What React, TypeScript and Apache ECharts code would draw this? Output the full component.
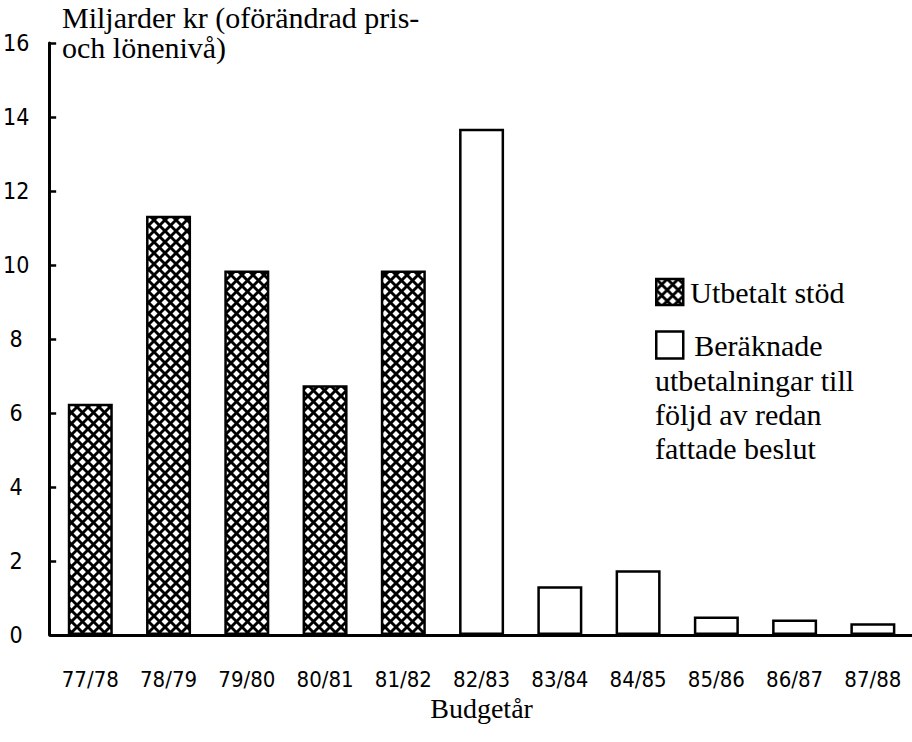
import React, { useEffect, useRef } from "react";
import * as echarts from "echarts";

const categories = ["77/78", "78/79", "79/80", "80/81", "81/82", "82/83", "83/84", "84/85", "85/86", "86/87", "87/88"];
const paidOut = [6.25, 11.33, 9.85, 6.75, 9.85, null, null, null, null, null, null];
const estimated = [null, null, null, null, null, 13.68, 1.32, 1.75, 0.5, 0.42, 0.32];
const yTicks = [0, 2, 4, 6, 8, 10, 12, 14, 16];
const paidName = "Utbetalt stöd";
const estName = "Beräknade utbetalningar till följd av redan fattade beslut";
const estLegendFirst = "Beräknade";
const estLegendRest = ["utbetalningar till", "följd av redan", "fattade beslut"];
const yTitle = ["Miljarder kr (oförändrad pris-", "och lönenivå)"];
const xTitle = "Budgetår";

const SERIF = '"Liberation Serif", "Times New Roman", serif';
const NARROW = '"DejaVu Sans Condensed", "DejaVu Sans", sans-serif';

function makeHatchTile(): HTMLCanvasElement {
  const s = 11;
  const c = document.createElement("canvas");
  c.width = s;
  c.height = s;
  const ctx = c.getContext("2d")!;
  ctx.fillStyle = "#ffffff";
  ctx.fillRect(0, 0, s, s);
  ctx.strokeStyle = "#000000";
  ctx.lineWidth = 2.9;
  ctx.lineCap = "square";
  for (const dx of [-s, 0, s]) {
    ctx.beginPath();
    ctx.moveTo(dx, 0);
    ctx.lineTo(dx + s, s);
    ctx.stroke();
    ctx.beginPath();
    ctx.moveTo(dx + s, 0);
    ctx.lineTo(dx, s);
    ctx.stroke();
  }
  return c;
}

export default function App() {
  const ref = useRef<HTMLDivElement>(null);
  useEffect(() => {
    if (!ref.current) return;
    const chart = echarts.init(ref.current, undefined, { renderer: "svg" });
    const hatch = { image: makeHatchTile(), repeat: "repeat" };
    chart.setOption({
      animation: false,
      backgroundColor: "#ffffff",
      grid: { left: 51, right: 0, top: 43, bottom: 107, containLabel: false },
      xAxis: {
        type: "category",
        data: categories,
        axisLine: { lineStyle: { color: "#000", width: 3 } },
        axisTick: { show: false },
        axisLabel: {
          margin: 33,
          color: "#000",
          fontFamily: NARROW,
          fontSize: 22,
          interval: 0,
        },
        name: xTitle,
        nameLocation: "middle",
        nameGap: 53,
        nameTextStyle: { fontFamily: SERIF, fontSize: 28, color: "#000" },
      },
      yAxis: {
        type: "value",
        min: yTicks[0],
        max: yTicks[yTicks.length - 1],
        interval: 2,
        offset: 2,
        splitLine: { show: false },
        axisLine: { show: true, lineStyle: { color: "#000", width: 3 } },
        axisTick: { show: true, inside: true, length: 7, lineStyle: { color: "#000", width: 2.5 } },
        axisLabel: {
          margin: 33,
          align: "center",
          color: "#000",
          fontFamily: NARROW,
          fontSize: 23,
        },
      },
      legend: [
        {
          data: [paidName],
          left: 655,
          top: 277,
          orient: "vertical",
          padding: 0,
          itemWidth: 27,
          itemHeight: 26,
          itemGap: 7,
          icon: "rect",
          selectedMode: false,
          textStyle: { fontFamily: SERIF, fontSize: 30, color: "#000", padding: [0, 0, 0, 2] },
          itemStyle: { borderColor: "#000", borderWidth: 2.5 },
        },
        {
          data: [estName],
          left: 655,
          top: 330,
          orient: "vertical",
          padding: 0,
          itemWidth: 27,
          itemHeight: 27,
          itemGap: 14,
          icon: "rect",
          selectedMode: false,
          formatter: () => estLegendFirst,
          textStyle: { fontFamily: SERIF, fontSize: 30, color: "#000", padding: [0, 0, 0, 6] },
          itemStyle: { borderColor: "#000", borderWidth: 2.5, color: "#fff" },
        },
      ],
      graphic: [
        {
          type: "text",
          left: 62,
          top: 2,
          style: {
            text: yTitle.join("\n"),
            font: `30px ${SERIF}`,
            lineHeight: 30,
            fill: "#000",
          },
        },
        {
          type: "text",
          left: 655,
          top: 363,
          style: {
            text: estLegendRest.join("\n"),
            font: `30px ${SERIF}`,
            lineHeight: 34,
            fill: "#000",
          },
        },
      ],
      series: [
        {
          name: paidName,
          type: "bar",
          data: paidOut,
          barWidth: 45,
          barGap: "-100%",
          itemStyle: { color: hatch, borderColor: "#000", borderWidth: 2.5 },
        },
        {
          name: estName,
          type: "bar",
          data: estimated,
          barWidth: 45,
          itemStyle: { color: "#fff", borderColor: "#000", borderWidth: 2.5 },
        },
      ],
    });
    return () => chart.dispose();
  }, []);
  return (
    <div
      ref={ref}
      style={{ position: "fixed", left: 0, top: 0, width: 912, height: 742, background: "#fff" }}
    />
  );
}
